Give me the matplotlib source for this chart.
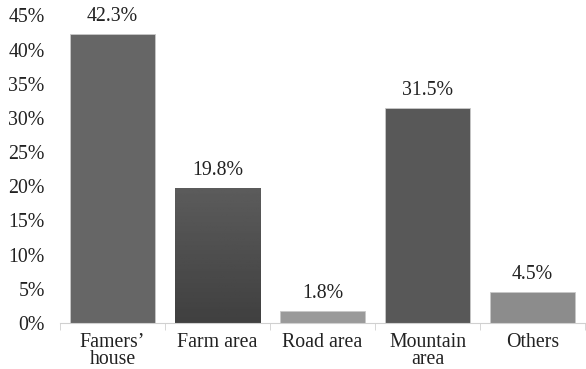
import matplotlib
matplotlib.use('Agg')
import matplotlib.pyplot as plt
import numpy as np

categories = ['Famers\u2019\nhouse', 'Farm area', 'Road area', 'Mountain\narea', 'Others']
values = [42.3, 19.8, 1.8, 31.5, 4.5]
labels = ['42.3%', '19.8%', '1.8%', '31.5%', '4.5%']
colors = ['#666666', '#4a4a4a', '#9a9a9a', '#585858', '#8c8c8c']

plt.rcParams['font.family'] = ['Liberation Serif', 'DejaVu Serif']
fs = 14.3

fig = plt.figure(figsize=(5.86, 3.69), dpi=100)
ax = fig.add_axes([60 / 586, 1 - 323 / 369, 525 / 586, (323 - 15.5) / 369])

x = np.arange(len(categories))
bars = ax.bar(x, values, width=0.81, color=colors, edgecolor='#c8c8c8', linewidth=0.6, zorder=2)

# gradient on the "Farm area" bar
b = bars[1]
grad = np.linspace(0.36, 0.25, 100).reshape(-1, 1)
img = ax.imshow(grad, cmap='gray', vmin=0, vmax=1, aspect='auto',
                extent=[b.get_x(), b.get_x() + b.get_width(), 0, b.get_height()],
                origin='upper', zorder=2.5)
img.set_clip_path(b)

for xi, v, lab in zip(x, values, labels):
    ax.text(xi, v + 1.9, lab, ha='center', va='baseline', fontsize=fs, color='#222222', clip_on=False)

ax.set_xlim(-0.5, len(categories) - 0.5)
ax.set_ylim(0, 45)
ax.set_yticks(np.arange(0, 46, 5))
ax.set_yticklabels([f'{t}%' for t in range(0, 46, 5)], fontsize=fs, color='#222222')
ax.set_xticks(x)
ax.set_xticklabels(categories, fontsize=fs, color='#222222', linespacing=0.88)
ax.set_xticks(np.arange(-0.5, len(categories), 1), minor=True)
ax.tick_params(axis='x', which='major', length=0, pad=7)
ax.tick_params(axis='x', which='minor', length=5, color='#d0d0d0')
ax.tick_params(axis='y', length=0, pad=11)

for s in ['top', 'right', 'left']:
    ax.spines[s].set_visible(False)
ax.spines['bottom'].set_color('#d0d0d0')

fig.savefig('out.png', dpi=100)
